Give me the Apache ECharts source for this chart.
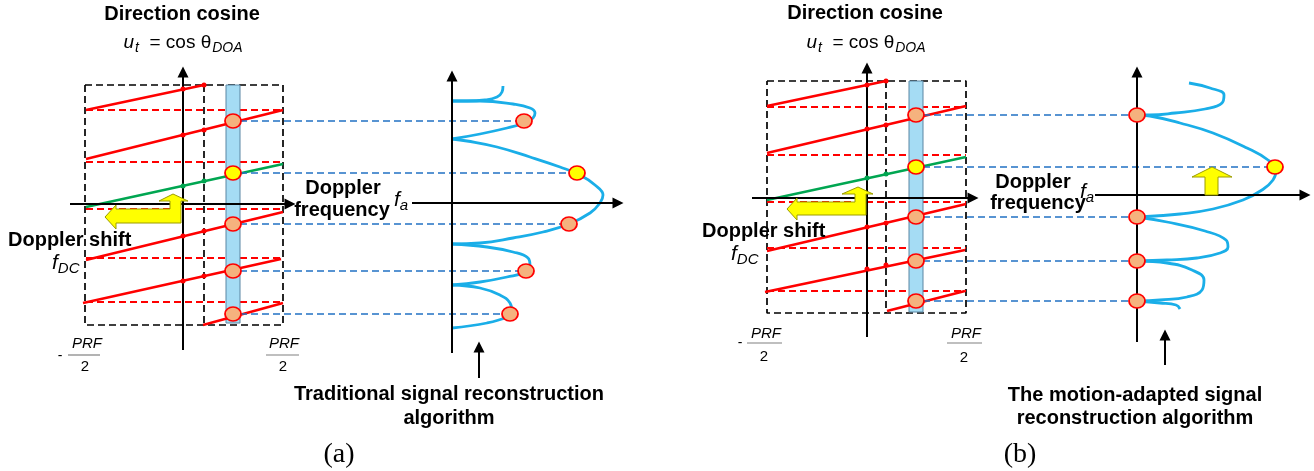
<!DOCTYPE html>
<html><head><meta charset="utf-8">
<script src="https://cdn.jsdelivr.net/npm/echarts@6/dist/echarts.min.js"></script>
<style>html,body{margin:0;padding:0;background:#fff}#c{width:1314px;height:471px}</style>
</head><body><div id="c"></div>
<script>
// ===== Panel (a): traditional reconstruction (diagram coordinates) =====
const aBoxOutline = [[85,85],[283,85],[283,325],[85,325],[85,85]];
const aBoxDivider = [[204,85],[204,325]];
const aAliasSegments = [
  [[86,110],[204,85]],
  [[86,159],[283,110]],
  [[86,260],[283,212]],
  [[83,303],[281,259]],
  [[203,325],[283,303]]
];
const aMainSegment = [[86,207],[283,164]];
const aAliasLevels = [110,162,209,258,302];
const aLevelSpan = [86,283];
const aBar = [[226,85],[240,323]];
const aBarX = 233;
const aBarSamples = [121,173,224,271,314];
const aSpectrumSamples = [[524,121],[577,173],[569,224],[526,271],[510,314]];
const aSpectrumLobes = [
  [[503,86],[502,92],[497,97],[485,100],[467,101],[452,101]],
  [[452,101],[480,101],[513,104],[530,108],[535,113],[533,118],[525,123],[507,128],[480,134],[452,139]],
  [[452,139],[467,141],[497,147],[530,157],[560,167],[580,175],[595,185],[603,195],[600,203],[590,213],[569,224],[543,232],[513,238],[480,243],[452,244]],
  [[452,244],[487,247],[513,252],[528,258],[530,265],[525,272],[507,277],[480,282],[452,285]],
  [[452,285],[480,288],[500,295],[510,303],[512,312],[507,317],[487,323],[452,328]]
];
const aAxes = [[[183,350],[183,72]],[[70,204],[290,204]],[[452,353],[452,76]],[[412,203],[618,203]],[[479,378],[479,347]]];
const aRedDots = [[183,89],[204,85],[183,135],[204,130],[183,236],[204,231],[183,281],[204,276]];
const aGreenDots = [[183,186],[204,181]];

// ===== Panel (b): motion-adapted reconstruction =====
const bBoxOutline = [[767,81],[966,81],[966,313],[767,313],[767,81]];
const bBoxDivider = [[886,81],[886,313]];
const bAliasSegments = [
  [[767,106],[886,81]],
  [[767,153],[966,106]],
  [[767,251],[966,204]],
  [[765,292],[965,250]],
  [[887,311],[965,291]]
];
const bMainSegment = [[767,200],[966,157]];
const bAliasLevels = [107,155,202,248,291];
const bLevelSpan = [767,966];
const bBar = [[909,81],[923,312]];
const bBarX = 916;
const bBarSamples = [115,167,217,261,301];
const bSpectrumSamples = [[1137,115],[1275,167],[1137,217],[1137,261],[1137,301]];
const bSpectrumLobes = [
  [[1189,83],[1210,88],[1224,95],[1222,103],[1205,109],[1175,113],[1150,115],[1137,115]],
  [[1137,115],[1150,116],[1180,123],[1213,133],[1247,148],[1268,160],[1276,170],[1273,180],[1262,190],[1243,200],[1213,209],[1180,214],[1155,216],[1137,217]],
  [[1137,217],[1167,222],[1205,231],[1226,240],[1228,247],[1220,253],[1197,258],[1167,260],[1137,261]],
  [[1137,261],[1167,263],[1192,270],[1204,280],[1202,290],[1187,297],[1160,300],[1137,301]],
  [[1137,301],[1160,303],[1176,305],[1180,309]]
];
const bAxes = [[[867,337],[867,68]],[[752,198],[973,198]],[[1137,342],[1137,72]],[[1095,195],[1305,195]],[[1165,365],[1165,335]]];
const bRedDots = [[867,85],[886,81],[867,129],[886,125],[867,227],[886,223],[867,269],[886,265]];
const bGreenDots = [[867,178],[886,174]];

// ===== Shift arrows =====
const yellowArrows = [
  [[173,194],[188,201],[181,201],[181,223],[116,223],[116,229],[105,217],[116,205],[116,209],[170,209],[170,201],[159,201]],
  [[858,187],[873,194],[866,194],[866,215],[797,215],[797,220],[787,209],[797,198],[797,202],[855,202],[855,194],[842,194]],
  [[1212,167],[1232,177],[1218,177],[1218,195],[1205,195],[1205,177],[1192,177]]
];
const yellowIndex = 1; // which sample is the main-lobe (yellow) one

// ===== Texts =====
const titleText = 'Direction cosine';
const freqWords = ['Doppler','frequency'];
const shiftText = 'Doppler shift';
const captionA = ['Traditional signal reconstruction','algorithm'];
const captionB = ['The motion-adapted signal','reconstruction algorithm'];
const panelTags = ['(a)','(b)'];

const SANS = '"Liberation Sans", Arial, Helvetica, sans-serif';
const SERIF = '"Liberation Serif", "Times New Roman", serif';
const RED = '#FF0000', GREEN = '#00A651', DBLUE = '#2272C3', LBLUE = '#1AAEE8';

const series = [];
function poly(pts, color, width, dashed, z, smooth) {
  series.push({type:'line', data:pts, symbol:'none', smooth: smooth || false, z: z, silent:true,
    lineStyle:{color:color, width:width, type: dashed ? [7,4] : 'solid', cap:'butt'}});
}
function panel(p) {
  poly(p.box, '#000', 1.7, true, 1);
  poly(p.div, '#000', 1.7, true, 1);
  p.levels.forEach(y => poly([[p.span[0],y],[p.span[1],y]], RED, 1.8, true, 2));
  series.push({type:'custom', z:3, silent:true, data:[[p.bar[0][0],p.bar[0][1]]],
    renderItem:(params, api) => {
      const a = api.coord(p.bar[0]), b = api.coord(p.bar[1]);
      return {type:'rect', shape:{x:a[0], y:a[1], width:b[0]-a[0], height:b[1]-a[1]},
        style:{fill:'#A5DCF4', stroke:'#5B86A3', lineWidth:1}};
    }});
  p.alias.forEach(s => poly(s, RED, 2.5, false, 4));
  poly(p.main, GREEN, 2.5, false, 4);
  p.spec.forEach((pt, i) => poly([[p.bar[1][0], p.barSamples[i]], pt], DBLUE, 1.7, true, 4));
  p.lobes.forEach(l => poly(l, LBLUE, 2.8, false, 4, 0.45));
  series.push({type:'scatter', data:p.redDots, symbolSize:5, z:5, silent:true, itemStyle:{color:RED, opacity:1}});
  series.push({type:'scatter', data:p.greenDots, symbolSize:5, z:5, silent:true, itemStyle:{color:GREEN, opacity:1}});
  series.push({type:'lines', coordinateSystem:'cartesian2d', z:5, silent:true,
    symbol:['none','triangle'], symbolSize:[9,11],
    lineStyle:{color:'#000', width:2, opacity:1, curveness:0},
    data:p.axes.map(a => ({coords:a}))});
  const circ = [];
  p.barSamples.forEach((y, i) => circ.push({value:[p.barX, y], itemStyle:{color: i === yellowIndex ? '#FFFF00' : '#F5B27E'}}));
  p.spec.forEach((pt, i) => circ.push({value:pt, itemStyle:{color: i === yellowIndex ? '#FFFF00' : '#F5B27E'}}));
  series.push({type:'scatter', data:circ, symbolSize:[16,14], z:7, silent:true,
    itemStyle:{borderColor:RED, borderWidth:1.7, opacity:1}});
}
panel({box:aBoxOutline, div:aBoxDivider, levels:aAliasLevels, span:aLevelSpan, bar:aBar, barX:aBarX,
  alias:aAliasSegments, main:aMainSegment, barSamples:aBarSamples, spec:aSpectrumSamples, lobes:aSpectrumLobes,
  axes:aAxes, redDots:aRedDots, greenDots:aGreenDots});
panel({box:bBoxOutline, div:bBoxDivider, levels:bAliasLevels, span:bLevelSpan, bar:bBar, barX:bBarX,
  alias:bAliasSegments, main:bMainSegment, barSamples:bBarSamples, spec:bSpectrumSamples, lobes:bSpectrumLobes,
  axes:bAxes, redDots:bRedDots, greenDots:bGreenDots});

series.push({type:'custom', z:6, silent:true, data:yellowArrows.map(p => p[0]),
  renderItem:(params, api) => ({type:'polygon',
    shape:{points: yellowArrows[params.dataIndex].map(pt => api.coord(pt))},
    style:{fill:'#FFFF00', stroke:'#9C9C00', lineWidth:1}})});

// fraction bars of PRF/2
const fracBars = [[[68,355],[100,355]],[[266,355],[299,355]],[[747,343],[782,343]],[[947,343],[982,343]]];
fracBars.forEach(b => poly(b, '#808080', 1.2, false, 8));

const NB = {textBorderWidth:0, textBorderColor:'transparent', textShadowBlur:0, color:'#000'};
const RICH = {
  it:Object.assign({fontStyle:'italic', fontSize:19, fontFamily:SANS}, NB),
  rm:Object.assign({fontSize:19, fontFamily:SANS}, NB),
  sub:Object.assign({fontStyle:'italic', fontSize:14, fontFamily:SANS, padding:[11,0,0,1]}, NB),
  fi:Object.assign({fontStyle:'italic', fontSize:21, fontFamily:SANS}, NB),
  fsub:Object.assign({fontStyle:'italic', fontSize:15, fontFamily:SANS, padding:[12,0,0,0]}, NB)
};
const formula = '{it|u}{sub|t}{rm|  = cos θ}{sub|DOA}';
const fa = '{fi|f}{fsub|a}';
const fdc = '{fi|f}{fsub|DC}';
function txt(x, y, text, o) {
  return {value:[x,y], label:Object.assign({show:true, position:'inside', formatter:text, color:'#000',
    textBorderWidth:0, textBorderColor:'transparent',
    fontFamily:SANS, fontSize:20, fontWeight:'bold', align:'center', verticalAlign:'middle', rich:RICH}, o||{})};
}
const prf = {fontWeight:'normal', fontStyle:'italic', fontSize:15};
const two = {fontWeight:'normal', fontSize:15};
const texts = [
  txt(182,14,titleText), txt(183,43,formula,{fontWeight:'normal'}),
  txt(343,188,freqWords[0]), txt(342,210,freqWords[1]), txt(401,200,fa,{fontWeight:'normal'}),
  txt(8,240,shiftText,{align:'left'}), txt(52,263,fdc,{fontWeight:'normal', align:'left'}),
  txt(60,356,'-',{fontWeight:'normal', fontSize:14}), txt(87,344,'PRF',prf), txt(85,367,'2',two),
  txt(284,344,'PRF',prf), txt(283,367,'2',two),
  txt(449,394,captionA[0]), txt(449,418,captionA[1]),
  txt(339,455,panelTags[0],{fontFamily:SERIF, fontWeight:'normal', fontSize:28}),
  txt(865,13,titleText), txt(866,43,formula,{fontWeight:'normal'}),
  txt(1033,182,freqWords[0]), txt(1038,203,freqWords[1]), txt(1087,192,fa,{fontWeight:'normal'}),
  txt(702,231,shiftText,{align:'left'}), txt(731,254,fdc,{fontWeight:'normal', align:'left'}),
  txt(740,343,'-',{fontWeight:'normal', fontSize:14}), txt(766,334,'PRF',prf), txt(764,357,'2',two),
  txt(966,334,'PRF',prf), txt(964,358,'2',two),
  txt(1135,395,captionB[0]), txt(1135,418,captionB[1]),
  txt(1020,455,panelTags[1],{fontFamily:SERIF, fontWeight:'normal', fontSize:28})
];
series.push({type:'scatter', data:texts, symbolSize:1, z:9, silent:true, itemStyle:{color:'rgba(0,0,0,0)', opacity:1}});

const chart = echarts.init(document.getElementById('c'), null, {renderer:'canvas'});
chart.setOption({
  animation:false,
  backgroundColor:'#fff',
  grid:{left:0, top:0, right:0, bottom:0},
  xAxis:{type:'value', min:0, max:1314, show:false},
  yAxis:{type:'value', min:0, max:471, inverse:true, show:false},
  series:series
});
</script></body></html>
